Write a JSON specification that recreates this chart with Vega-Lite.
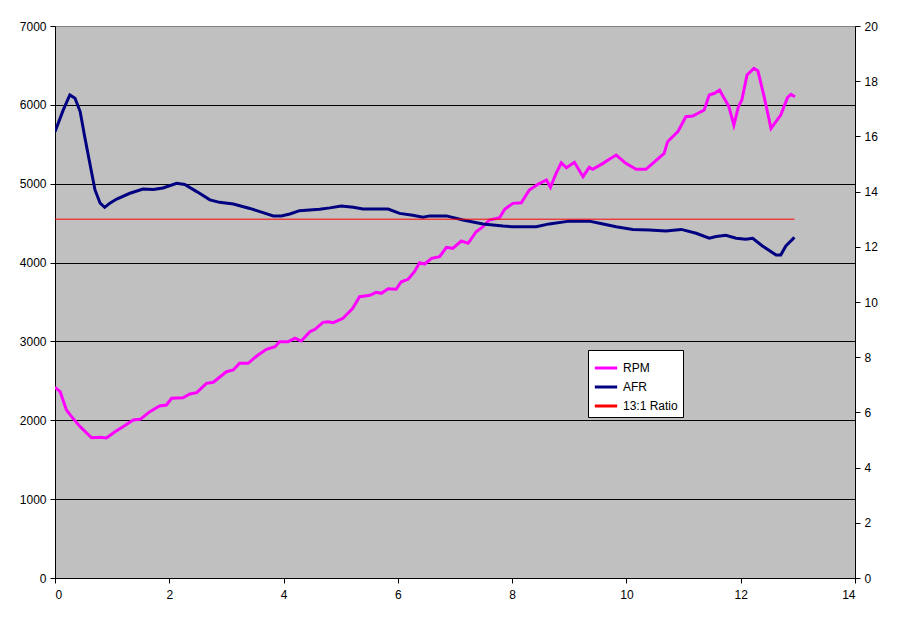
{
  "$schema": "https://vega.github.io/schema/vega-lite/v6.json",
  "width": 800,
  "height": 552,
  "autosize": {"type": "none"},
  "padding": {"left": 55, "top": 26, "right": 53, "bottom": 45},
  "background": "white",
  "config": {
    "view": {"fill": "#C0C0C0", "stroke": "#808080", "strokeWidth": 1},
    "font": "Liberation Sans",
    "axis": {
      "labelFont": "Liberation Sans",
      "labelFontSize": 12,
      "labelColor": "black",
      "domainColor": "black",
      "tickColor": "black",
      "tickSize": 5,
      "title": null
    },
    "legend": {
      "orient": "none",
      "legendX": 533,
      "legendY": 324,
      "fillColor": "white",
      "strokeColor": "black",
      "padding": 5,
      "labelFont": "Liberation Sans",
      "labelFontSize": 12,
      "labelColor": "black",
      "symbolType": "stroke",
      "symbolSize": 500,
      "rowPadding": -2,
      "title": null
    }
  },
  "datasets": {
    "rpm": [
      {"t": 0.00, "value": 2418}, {"t": 0.09, "value": 2363}, {"t": 0.20, "value": 2130},
      {"t": 0.29, "value": 2046}, {"t": 0.44, "value": 1919}, {"t": 0.64, "value": 1779},
      {"t": 0.79, "value": 1784}, {"t": 0.90, "value": 1775}, {"t": 1.05, "value": 1855},
      {"t": 1.19, "value": 1919}, {"t": 1.37, "value": 2004}, {"t": 1.49, "value": 2012},
      {"t": 1.66, "value": 2109}, {"t": 1.83, "value": 2181}, {"t": 1.95, "value": 2194},
      {"t": 2.04, "value": 2279}, {"t": 2.24, "value": 2286}, {"t": 2.36, "value": 2333},
      {"t": 2.48, "value": 2350}, {"t": 2.65, "value": 2469}, {"t": 2.77, "value": 2482},
      {"t": 3.00, "value": 2616}, {"t": 3.12, "value": 2638}, {"t": 3.23, "value": 2723},
      {"t": 3.38, "value": 2723}, {"t": 3.53, "value": 2815}, {"t": 3.70, "value": 2900},
      {"t": 3.85, "value": 2933}, {"t": 3.93, "value": 2997}, {"t": 4.08, "value": 2997},
      {"t": 4.20, "value": 3040}, {"t": 4.31, "value": 3005}, {"t": 4.46, "value": 3123},
      {"t": 4.55, "value": 3154}, {"t": 4.69, "value": 3242}, {"t": 4.78, "value": 3250},
      {"t": 4.87, "value": 3237}, {"t": 5.04, "value": 3293}, {"t": 5.21, "value": 3420},
      {"t": 5.33, "value": 3567}, {"t": 5.51, "value": 3585}, {"t": 5.62, "value": 3623},
      {"t": 5.71, "value": 3610}, {"t": 5.83, "value": 3669}, {"t": 5.97, "value": 3661},
      {"t": 6.06, "value": 3757}, {"t": 6.18, "value": 3788}, {"t": 6.29, "value": 3884},
      {"t": 6.38, "value": 3998}, {"t": 6.47, "value": 3982}, {"t": 6.59, "value": 4054},
      {"t": 6.73, "value": 4074}, {"t": 6.85, "value": 4194}, {"t": 6.96, "value": 4181},
      {"t": 7.11, "value": 4273}, {"t": 7.23, "value": 4244}, {"t": 7.37, "value": 4391},
      {"t": 7.49, "value": 4455}, {"t": 7.60, "value": 4540}, {"t": 7.78, "value": 4569},
      {"t": 7.87, "value": 4676}, {"t": 8.01, "value": 4751}, {"t": 8.16, "value": 4759},
      {"t": 8.30, "value": 4920}, {"t": 8.45, "value": 4992}, {"t": 8.60, "value": 5047},
      {"t": 8.67, "value": 4954}, {"t": 8.77, "value": 5132}, {"t": 8.86, "value": 5266},
      {"t": 8.95, "value": 5203}, {"t": 9.09, "value": 5271}, {"t": 9.24, "value": 5089},
      {"t": 9.35, "value": 5208}, {"t": 9.41, "value": 5183}, {"t": 9.59, "value": 5258},
      {"t": 9.70, "value": 5309}, {"t": 9.82, "value": 5364}, {"t": 9.99, "value": 5258},
      {"t": 10.17, "value": 5182}, {"t": 10.34, "value": 5182}, {"t": 10.46, "value": 5258},
      {"t": 10.66, "value": 5385}, {"t": 10.72, "value": 5533}, {"t": 10.90, "value": 5660},
      {"t": 11.04, "value": 5850}, {"t": 11.16, "value": 5859}, {"t": 11.36, "value": 5935},
      {"t": 11.45, "value": 6125}, {"t": 11.54, "value": 6147}, {"t": 11.63, "value": 6188},
      {"t": 11.71, "value": 6083}, {"t": 11.79, "value": 5985}, {"t": 11.88, "value": 5744},
      {"t": 11.96, "value": 5977}, {"t": 12.02, "value": 6061}, {"t": 12.11, "value": 6378},
      {"t": 12.23, "value": 6463}, {"t": 12.30, "value": 6433}, {"t": 12.41, "value": 6103},
      {"t": 12.53, "value": 5702}, {"t": 12.70, "value": 5871}, {"t": 12.82, "value": 6095},
      {"t": 12.88, "value": 6134}, {"t": 12.95, "value": 6103}
    ],
    "afr": [
      {"t": 0.00, "value": 16.17}, {"t": 0.145, "value": 16.96}, {"t": 0.26, "value": 17.5},
      {"t": 0.35, "value": 17.38}, {"t": 0.44, "value": 16.9}, {"t": 0.52, "value": 15.99},
      {"t": 0.61, "value": 15.02}, {"t": 0.70, "value": 14.06}, {"t": 0.79, "value": 13.58},
      {"t": 0.87, "value": 13.43}, {"t": 0.96, "value": 13.58}, {"t": 1.08, "value": 13.73},
      {"t": 1.31, "value": 13.94}, {"t": 1.54, "value": 14.09}, {"t": 1.72, "value": 14.08},
      {"t": 1.89, "value": 14.13}, {"t": 2.13, "value": 14.30}, {"t": 2.27, "value": 14.26},
      {"t": 2.48, "value": 14.0}, {"t": 2.71, "value": 13.70}, {"t": 2.88, "value": 13.61},
      {"t": 3.12, "value": 13.55}, {"t": 3.41, "value": 13.39}, {"t": 3.64, "value": 13.24},
      {"t": 3.82, "value": 13.12}, {"t": 3.96, "value": 13.12}, {"t": 4.11, "value": 13.19},
      {"t": 4.28, "value": 13.31}, {"t": 4.63, "value": 13.36}, {"t": 4.81, "value": 13.41},
      {"t": 5.01, "value": 13.48}, {"t": 5.22, "value": 13.43}, {"t": 5.39, "value": 13.37},
      {"t": 5.83, "value": 13.37}, {"t": 6.03, "value": 13.21}, {"t": 6.26, "value": 13.14},
      {"t": 6.44, "value": 13.07}, {"t": 6.56, "value": 13.12}, {"t": 6.85, "value": 13.12},
      {"t": 7.14, "value": 12.97}, {"t": 7.49, "value": 12.83}, {"t": 7.84, "value": 12.75},
      {"t": 8.01, "value": 12.73}, {"t": 8.42, "value": 12.73}, {"t": 8.65, "value": 12.83},
      {"t": 9.00, "value": 12.93}, {"t": 9.35, "value": 12.93}, {"t": 9.53, "value": 12.85},
      {"t": 9.82, "value": 12.73}, {"t": 10.11, "value": 12.63}, {"t": 10.40, "value": 12.61},
      {"t": 10.69, "value": 12.57}, {"t": 10.96, "value": 12.63}, {"t": 11.22, "value": 12.49},
      {"t": 11.45, "value": 12.31}, {"t": 11.57, "value": 12.37}, {"t": 11.74, "value": 12.42},
      {"t": 11.92, "value": 12.31}, {"t": 12.09, "value": 12.27}, {"t": 12.21, "value": 12.31},
      {"t": 12.38, "value": 12.03}, {"t": 12.62, "value": 11.70}, {"t": 12.70, "value": 11.70},
      {"t": 12.79, "value": 12.03}, {"t": 12.94, "value": 12.34}
    ],
    "ratio": [
      {"t": 0, "value": 13}, {"t": 12.94, "value": 13}
    ]
  },
  "encoding": {
    "x": {
      "field": "t",
      "type": "quantitative",
      "scale": {"domain": [0, 14], "nice": false},
      "axis": {"values": [0, 2, 4, 6, 8, 10, 12, 14], "grid": false, "labelPadding": 6}
    }
  },
  "layer": [
    {
      "data": {"name": "rpm"},
      "transform": [{"calculate": "'RPM'", "as": "series"}],
      "mark": {"type": "line", "strokeWidth": 3, "clip": true},
      "encoding": {
        "y": {
          "field": "value",
          "type": "quantitative",
          "scale": {"domain": [0, 7000], "nice": false},
          "axis": {
            "orient": "left",
            "values": [0, 1000, 2000, 3000, 4000, 5000, 6000, 7000],
            "format": "d",
            "grid": true,
            "gridColor": {"condition": {"test": "datum.value == 7000", "value": "#808080"}, "value": "black"},
            "gridOpacity": 1,
            "labelPadding": 4
          }
        },
        "color": {
          "field": "series",
          "type": "nominal",
          "scale": {"domain": ["RPM", "AFR", "13:1 Ratio"], "range": ["#FF00FF", "#000080", "#FF0000"]},
          "legend": {}
        },
        "strokeWidth": {
          "field": "series",
          "type": "nominal",
          "scale": {"domain": ["RPM", "AFR", "13:1 Ratio"], "range": [3, 3, 1]},
          "legend": {}
        }
      }
    },
    {
      "layer": [
        {
          "data": {"name": "afr"},
          "transform": [{"calculate": "'AFR'", "as": "series"}],
          "mark": {"type": "line", "strokeWidth": 3, "clip": true},
          "encoding": {
            "y": {
              "field": "value",
              "type": "quantitative",
              "scale": {"domain": [0, 20], "nice": false},
              "axis": {
                "orient": "right",
                "values": [0, 2, 4, 6, 8, 10, 12, 14, 16, 18, 20],
                "grid": false,
                "labelPadding": 4
              }
            },
            "color": {"field": "series", "type": "nominal"},
            "strokeWidth": {"field": "series", "type": "nominal"}
          }
        },
        {
          "data": {"name": "ratio"},
          "transform": [{"calculate": "'13:1 Ratio'", "as": "series"}],
          "mark": {"type": "line", "strokeWidth": 1},
          "encoding": {
            "y": {"field": "value", "type": "quantitative"},
            "color": {"field": "series", "type": "nominal"},
            "strokeWidth": {"field": "series", "type": "nominal"}
          }
        }
      ]
    }
  ],
  "resolve": {"scale": {"y": "independent"}}
}
